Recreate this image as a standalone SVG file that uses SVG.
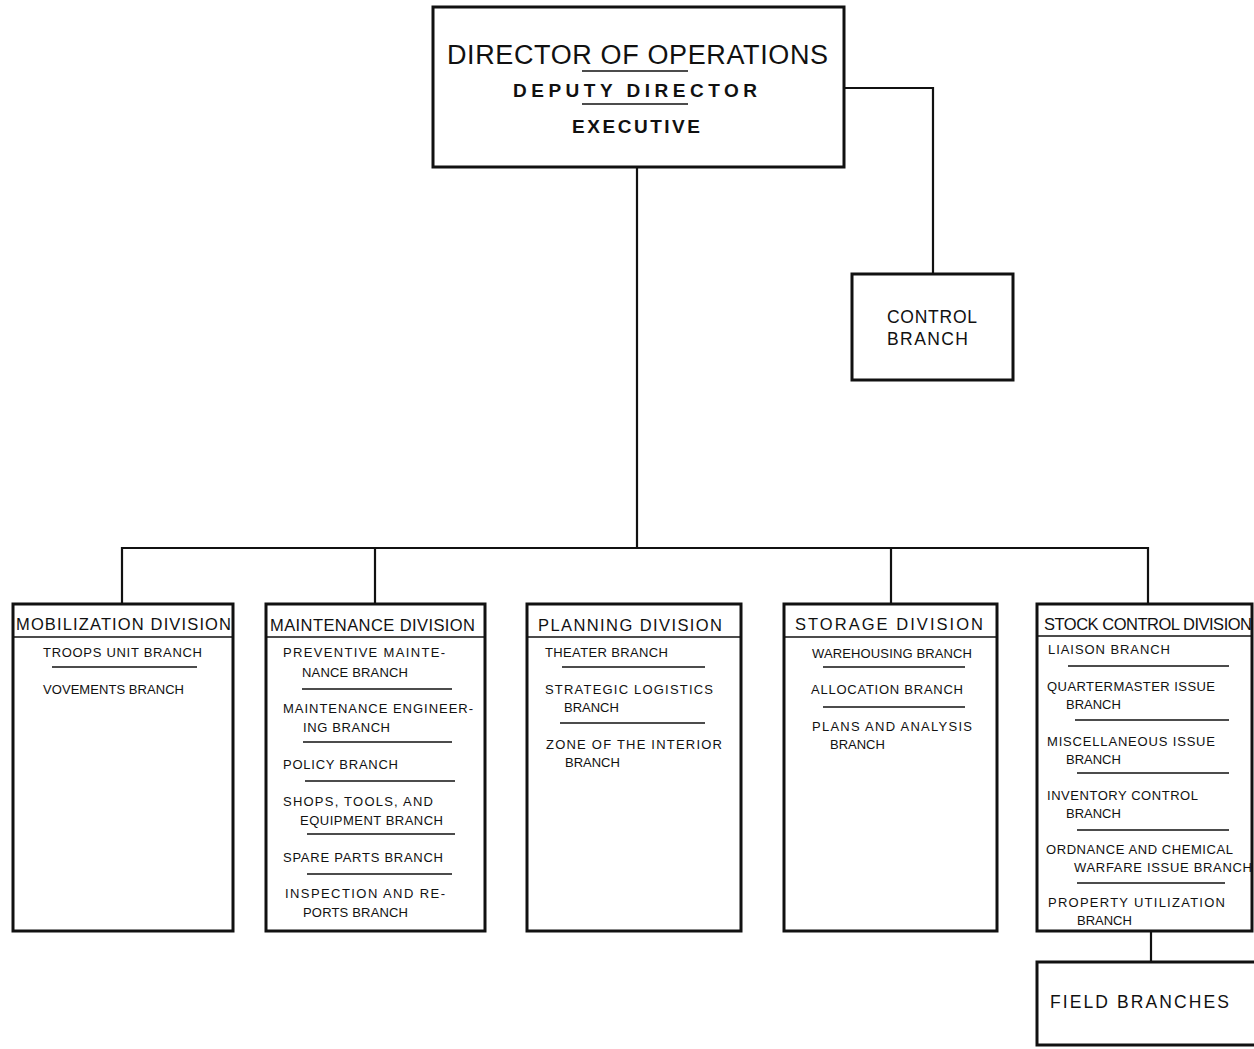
<svg xmlns="http://www.w3.org/2000/svg" width="1254" height="1049" viewBox="0 0 1254 1049">
<style>
.box{fill:#fff;stroke:#111;stroke-width:3}
.conn{fill:none;stroke:#111;stroke-width:2.2}
.sep{stroke:#111;stroke-width:1.5}
text{font-family:"Liberation Sans",Arial,sans-serif;fill:#111}
.item{font-size:13px}
.hdr{font-size:16.5px}
.big{font-size:17.5px}
</style>
<rect width="1254" height="1049" fill="#fff"/>
<g id="connectors">
<path class="conn" d="M637 167 V548"/>
<path class="conn" d="M845 88 H933 V274"/>
<path class="conn" d="M122 604 V548 H1148 V604"/>
<path class="conn" d="M375 548 V604"/>
<path class="conn" d="M891 548 V604"/>
<path class="conn" d="M1151 931 V962"/>
</g>
<g id="director">
<rect class="box" x="433" y="7" width="411" height="160"/>
<text x="447" y="64" font-size="27" textLength="381">DIRECTOR OF OPERATIONS</text>
<line class="sep" x1="582" y1="71" x2="688" y2="71" stroke-width="2"/>
<text x="513" y="97" font-size="19" font-weight="bold" textLength="244">DEPUTY DIRECTOR</text>
<line class="sep" x1="582" y1="104" x2="688" y2="104" stroke-width="2"/>
<text x="572" y="133" font-size="19" font-weight="bold" textLength="128">EXECUTIVE</text>
</g>
<g id="control">
<rect class="box" x="852" y="274" width="161" height="106"/>
<text class="big" x="887" y="323" textLength="90">CONTROL</text>
<text class="big" x="887" y="345" textLength="81">BRANCH</text>
</g>
<g id="mobilization">
<rect class="box" x="13" y="604" width="220" height="327"/>
<line class="sep" x1="13" y1="637" x2="233" y2="637" stroke-width="2.5"/>
<text class="hdr" x="16" y="630" textLength="215">MOBILIZATION DIVISION</text>
<text class="item" x="43" y="657" textLength="159">TROOPS UNIT BRANCH</text>
<line class="sep" x1="52" y1="667" x2="197" y2="667"/>
<text class="item" x="43" y="694" textLength="141">VOVEMENTS BRANCH</text>
</g>
<g id="maintenance">
<rect class="box" x="266" y="604" width="219" height="327"/>
<line class="sep" x1="266" y1="637" x2="485" y2="637" stroke-width="2.5"/>
<text class="hdr" x="270" y="631" textLength="205">MAINTENANCE DIVISION</text>
<text class="item" x="283" y="657" textLength="162">PREVENTIVE MAINTE-</text>
<text class="item" x="302" y="677" textLength="106">NANCE BRANCH</text>
<line class="sep" x1="302" y1="689" x2="452" y2="689"/>
<text class="item" x="283" y="713" textLength="190">MAINTENANCE ENGINEER-</text>
<text class="item" x="303" y="732" textLength="87">ING BRANCH</text>
<line class="sep" x1="303" y1="742" x2="452" y2="742"/>
<text class="item" x="283" y="769" textLength="115">POLICY BRANCH</text>
<line class="sep" x1="305" y1="781" x2="455" y2="781"/>
<text class="item" x="283" y="806" textLength="150">SHOPS, TOOLS, AND</text>
<text class="item" x="300" y="825" textLength="143">EQUIPMENT BRANCH</text>
<line class="sep" x1="307" y1="834" x2="455" y2="834"/>
<text class="item" x="283" y="862" textLength="160">SPARE PARTS BRANCH</text>
<line class="sep" x1="307" y1="874" x2="452" y2="874"/>
<text class="item" x="285" y="898" textLength="160">INSPECTION AND RE-</text>
<text class="item" x="303" y="917" textLength="105">PORTS BRANCH</text>
</g>
<g id="planning">
<rect class="box" x="527" y="604" width="214" height="327"/>
<line class="sep" x1="527" y1="637" x2="741" y2="637" stroke-width="2.5"/>
<text class="hdr" x="538" y="631" textLength="184">PLANNING DIVISION</text>
<text class="item" x="545" y="657" textLength="123">THEATER BRANCH</text>
<line class="sep" x1="562" y1="667" x2="705" y2="667"/>
<text class="item" x="545" y="694" textLength="168">STRATEGIC LOGISTICS</text>
<text class="item" x="564" y="712">BRANCH</text>
<line class="sep" x1="560" y1="723" x2="705" y2="723"/>
<text class="item" x="546" y="749" textLength="176">ZONE OF THE INTERIOR</text>
<text class="item" x="565" y="767">BRANCH</text>
</g>
<g id="storage">
<rect class="box" x="784" y="604" width="213" height="327"/>
<line class="sep" x1="784" y1="637" x2="997" y2="637" stroke-width="2.5"/>
<text class="hdr" x="795" y="630" textLength="188">STORAGE DIVISION</text>
<text class="item" x="812" y="658" textLength="160">WAREHOUSING BRANCH</text>
<line class="sep" x1="823" y1="667" x2="965" y2="667"/>
<text class="item" x="811" y="694" textLength="152">ALLOCATION BRANCH</text>
<line class="sep" x1="823" y1="707" x2="965" y2="707"/>
<text class="item" x="812" y="731" textLength="160">PLANS AND ANALYSIS</text>
<text class="item" x="830" y="749">BRANCH</text>
</g>
<g id="stock-control">
<rect class="box" x="1037" y="604" width="215" height="327"/>
<line class="sep" x1="1037" y1="636" x2="1252" y2="636" stroke-width="2.5"/>
<text class="hdr" x="1044" y="630" textLength="208">STOCK CONTROL DIVISION</text>
<text class="item" x="1048" y="654" textLength="122">LIAISON BRANCH</text>
<line class="sep" x1="1068" y1="666" x2="1229" y2="666"/>
<text class="item" x="1047" y="691" textLength="168">QUARTERMASTER ISSUE</text>
<text class="item" x="1066" y="709">BRANCH</text>
<line class="sep" x1="1075" y1="720" x2="1229" y2="720"/>
<text class="item" x="1047" y="746" textLength="168">MISCELLANEOUS ISSUE</text>
<text class="item" x="1066" y="764">BRANCH</text>
<line class="sep" x1="1077" y1="773" x2="1229" y2="773"/>
<text class="item" x="1047" y="800" textLength="151">INVENTORY CONTROL</text>
<text class="item" x="1066" y="818">BRANCH</text>
<line class="sep" x1="1077" y1="830" x2="1229" y2="830"/>
<text class="item" x="1046" y="854" textLength="187">ORDNANCE AND CHEMICAL</text>
<text class="item" x="1074" y="872" textLength="178">WARFARE ISSUE BRANCH</text>
<line class="sep" x1="1077" y1="883" x2="1225" y2="883"/>
<text class="item" x="1048" y="907" textLength="177">PROPERTY UTILIZATION</text>
<text class="item" x="1077" y="925">BRANCH</text>
</g>
<g id="field-branches">
<rect class="box" x="1037" y="962" width="219" height="83"/>
<text class="big" x="1050" y="1008" textLength="179">FIELD BRANCHES</text>
</g>
</svg>
